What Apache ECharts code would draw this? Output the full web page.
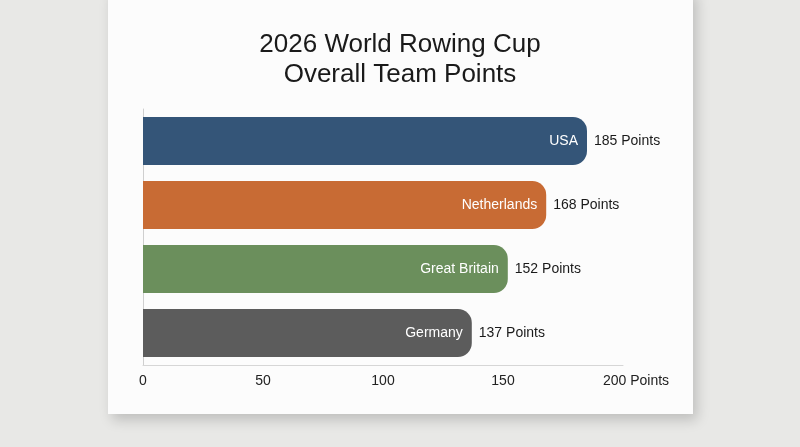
<!DOCTYPE html>
<html>
<head>
<meta charset="utf-8">
<script src="https://cdn.jsdelivr.net/npm/echarts@6/dist/echarts.min.js"></script>
<style>
html,body{margin:0;padding:0;width:800px;height:447px;background:#e8e8e6;overflow:hidden;}
#card{position:absolute;left:108px;top:-10px;width:585px;height:424px;background:#fcfcfc;box-shadow:4px 6px 12px rgba(0,0,0,0.18);}
#chart{position:absolute;left:0;top:0;width:800px;height:447px;}
</style>
</head>
<body>
<div id="card"></div>
<div id="chart"></div>
<script>
const titleLines = ['2026 World Rowing Cup', 'Overall Team Points'];
const teams = ['USA', 'Netherlands', 'Great Britain', 'Germany'];
const points = [185, 168, 152, 137];
const teamColors = ['#345578', '#c86b34', '#6b8f5c', '#5c5c5c'];
const xTicks = [0, 50, 100, 150, 200];
const unit = 'Points';

const chart = echarts.init(document.getElementById('chart'), null, {renderer: 'canvas'});
const font = '"Liberation Sans", Arial, Helvetica, sans-serif';
chart.setOption({
  backgroundColor: 'transparent',
  animation: false,
  title: {
    text: titleLines.join('\n'),
    left: 'center',
    top: 25,
    textStyle: {fontFamily: font, fontSize: 26, fontWeight: 'normal', color: '#1a1a1a', lineHeight: 30}
  },
  grid: {left: 143, right: 177, top: 109, bottom: 82, containLabel: false},
  xAxis: {
    type: 'value',
    min: xTicks[0],
    max: xTicks[xTicks.length - 1],
    interval: xTicks[1] - xTicks[0],
    axisLine: {show: true, lineStyle: {color: '#d6d6d6', width: 1}},
    axisTick: {show: false},
    splitLine: {show: false},
    axisLabel: {
      margin: 9,
      color: '#222',
      fontSize: 14,
      fontFamily: font,
      formatter: function (v) {
        return v === xTicks[xTicks.length - 1] ? '{a|' + v + ' ' + unit + '}' : String(v);
      },
      rich: {a: {fontSize: 14, fontFamily: font, color: '#222', padding: [0, 0, 0, 26]}}
    }
  },
  yAxis: {
    type: 'category',
    data: teams,
    inverse: true,
    axisLine: {show: true, lineStyle: {color: '#cfcfcf', width: 1}},
    axisTick: {show: false},
    axisLabel: {show: false},
    splitLine: {show: false}
  },
  series: [
    {
      type: 'bar',
      barWidth: 48,
      data: points.map((v, i) => ({value: v, itemStyle: {color: teamColors[i]}})),
      itemStyle: {borderRadius: [0, 14, 14, 0]},
      label: {
        show: true,
        position: 'insideRight',
        distance: 9,
        color: '#ffffff',
        fontSize: 14,
        fontFamily: font,
        formatter: function (p) { return teams[p.dataIndex]; }
      }
    },
    {
      type: 'bar',
      barWidth: 48,
      barGap: '-100%',
      data: points,
      itemStyle: {color: 'rgba(0,0,0,0)'},
      silent: true,
      label: {
        show: true,
        position: 'right',
        distance: 7,
        color: '#1a1a1a',
        fontSize: 14,
        fontFamily: font,
        formatter: function (p) { return p.value + ' ' + unit; }
      }
    }
  ]
});
</script>
</body>
</html>
